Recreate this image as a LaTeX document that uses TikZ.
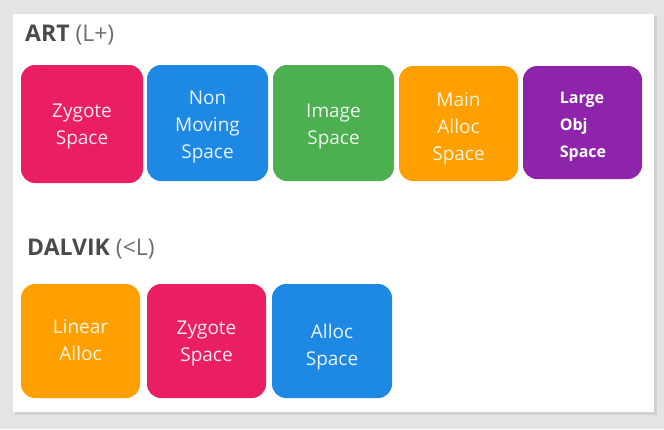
\documentclass[tikz,border=0pt]{standalone}
\usepackage{fontspec}
\setmainfont{Open Sans}
\newfontfamily\objfont{Open Sans}

\definecolor{pinkbox}{HTML}{E91E63}
\definecolor{bluebox}{HTML}{1E88E5}
\definecolor{greenbox}{HTML}{4CAF50}
\definecolor{orangebox}{HTML}{FFA000}
\definecolor{purplebox}{HTML}{8E24AA}
\definecolor{pagegray}{HTML}{E4E4E4}
\definecolor{titlegray}{HTML}{4A4A4A}

\begin{document}
\begin{tikzpicture}[x=1pt, y=-1pt,
    space/.style = {rounded corners=14pt, inner sep=0pt,
        minimum width=120pt, minimum height=115pt},
    spacetext/.style = {inner sep=0pt, align=center, font=\fontsize{19}{27}\selectfont},
    title/.style = {anchor=west, inner sep=0pt, text=titlegray,
        font=\fontsize{23}{26}\selectfont}]
    % page and panel
    \fill[pagegray] (0,0) rectangle (664,429);
    \fill[black!18] (15,16) rectangle (657,415);
    \fill[white] (13,14) rectangle (654,412);
    \useasboundingbox (0,0) rectangle (664,429);

    % ART row
    \node[title] (art) at (25,35) {\textbf{ART} \textcolor{titlegray!80}{(L+)}};

    \node[space, fill=pinkbox, minimum width=122pt, minimum height=118pt] (z1) at (82,124) {};
    \node[space, fill=bluebox, minimum width=121pt, minimum height=116pt] (nm) at (207.5,123) {};
    \node[space, fill=greenbox, minimum width=121pt, minimum height=116pt] (im) at (333.5,123) {};
    \node[space, fill=orangebox, minimum width=119pt] (ma) at (458.5,123.5) {};
    \node[space, fill=purplebox, minimum width=119pt, minimum height=113pt] (lo) at (582.5,122.5) {};

    \node[spacetext, text=pinkbox!10] (z1t) at (82,126) {Zygote\\Space};
    \node[spacetext, text=bluebox!10] (nmt) at (207.5,127) {Non\\Moving\\Space};
    \node[spacetext, text=greenbox!10] (imt) at (333.5,126) {Image\\Space};
    \node[spacetext, text=orangebox!12] (mat) at (458.5,129) {Main\\Alloc\\Space};
    \node[spacetext, text=white, align=left, font=\objfont\bfseries\fontsize{16}{27}\selectfont] (lot) at (583,126.5) {Large\\Obj\\Space};

    % DALVIK row
    \node[title] (dalvik) at (27,249) {\textbf{DALVIK} \textcolor{titlegray!80}{(<L)}};

    \node[space, fill=orangebox, minimum width=119pt, minimum height=114pt] (la) at (80.5,341) {};
    \node[space, fill=pinkbox, minimum width=119pt, minimum height=114pt] (z2) at (206.5,341) {};
    \node[space, fill=bluebox, minimum width=120pt, minimum height=114pt] (as) at (332,341) {};

    \node[spacetext, text=orangebox!12] (lat) at (80.5,340) {Linear\\Alloc};
    \node[spacetext, text=pinkbox!10] (z2t) at (206.5,343) {Zygote\\Space};
    \node[spacetext, text=bluebox!10] (ast) at (332,347) {Alloc\\Space};
\end{tikzpicture}
\end{document}
